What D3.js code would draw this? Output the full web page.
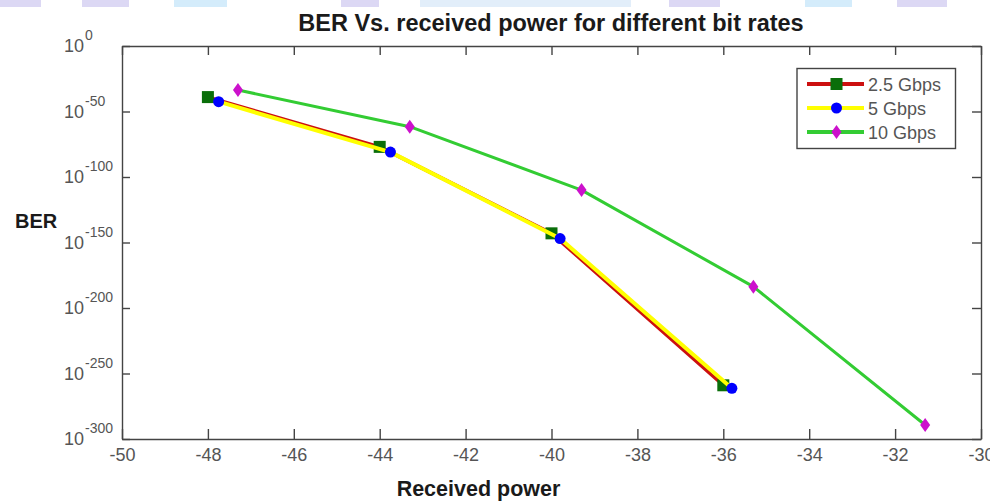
<!DOCTYPE html>
<html>
<head>
<meta charset="utf-8">
<script src="https://cdn.jsdelivr.net/npm/d3@7"></script>
<style>
  html, body { margin: 0; padding: 0; background: #ffffff; }
  svg { display: block; }
  text { font-family: "Liberation Sans", Arial, Helvetica, sans-serif; }
</style>
</head>
<body>
<svg id="chart" width="990" height="503"></svg>
<script>
// ---- Data ----
const seriesNames = ["2.5 Gbps", "5 Gbps", "10 Gbps"];
const power2_5 = [-48, -44, -40, -36];
const ber2_5   = [1e-39, 1e-77, 1e-143, 1e-259];
const power5   = [-47.75, -43.75, -39.8, -35.8];
const ber5     = [3e-43, 1e-81, 1e-147, 5e-262];
const power10  = [-47.3, -43.3, -39.3, -35.3, -31.3];
const ber10    = [2.5e-34, 2.5e-62, 1e-110, 2e-184, 5e-290];
const xTickValues = [-50, -48, -46, -44, -42, -40, -38, -36, -34, -32, -30];
const yTickExponents = [0, -50, -100, -150, -200, -250, -300];
const titleText = "BER Vs. received power for different bit rates";
const xLabelText = "Received power";
const yLabelText = "BER";

// ---- Styles ----
const styles = [
  { line: "#cc1010", lineWidth: 3.5, marker: "square",  fill: "#0a6e0a" },
  { line: "#ffff00", lineWidth: 4,   marker: "circle",  fill: "#0000ff" },
  { line: "#33cc33", lineWidth: 3,   marker: "diamond", fill: "#cc11cc" }
];
const seriesData = [
  power2_5.map((p, i) => ({ x: p, y: ber2_5[i] })),
  power5.map((p, i) => ({ x: p, y: ber5[i] })),
  power10.map((p, i) => ({ x: p, y: ber10[i] }))
];

const svg = d3.select("#chart");
const plot = { left: 122, right: 981, top: 46, bottom: 439 };

// decorative top band (page header artifact)
const band = svg.append("g");
const bandBlocks = [
  [0, 41, "#dcd8f4"], [82, 47, "#dcd8f4"], [174, 53, "#d4ecfb"], [341, 38, "#dcd8f4"],
  [420, 211, "#e2eefa"], [669, 51, "#dcd8f4"], [805, 47, "#d4ecfb"], [897, 50, "#dcd8f4"]
];
band.selectAll("rect").data(bandBlocks).join("rect")
  .attr("x", d => d[0]).attr("y", 0).attr("width", d => d[1]).attr("height", 7)
  .attr("fill", d => d[2]);

const x = d3.scaleLinear().domain([-50, -30]).range([plot.left, plot.right]);
const y = d3.scaleLog().base(10).domain([1e-300, 1]).range([plot.bottom, plot.top]);
const yTickVals = yTickExponents.map(e => Math.pow(10, e));

const axisColor = "#444";
const tickTextColor = "#555";

function styleAxis(g) {
  g.selectAll("path.domain").attr("stroke", axisColor).attr("stroke-width", 1.4);
  g.selectAll(".tick line").attr("stroke", axisColor).attr("stroke-width", 1.4);
  g.selectAll(".tick text").attr("fill", tickTextColor)
    .style("font-size", "18px").style("font-family", "'Liberation Sans', Arial, sans-serif");
}

// bottom axis
svg.append("g").attr("transform", `translate(0,${plot.bottom})`)
  .call(d3.axisBottom(x).tickValues(xTickValues).tickSize(-10).tickSizeOuter(0)
        .tickPadding(9).tickFormat(d => String(d)))
  .call(styleAxis);
// top axis
svg.append("g").attr("transform", `translate(0,${plot.top})`)
  .call(d3.axisTop(x).tickValues(xTickValues).tickSize(-9).tickSizeOuter(0).tickFormat(""))
  .call(styleAxis);
// left axis
svg.append("g").attr("transform", `translate(${plot.left},0)`)
  .call(d3.axisLeft(y).tickValues(yTickVals).tickSize(-8).tickSizeOuter(0).tickFormat(""))
  .call(styleAxis);
// right axis
svg.append("g").attr("transform", `translate(${plot.right},0)`)
  .call(d3.axisRight(y).tickValues(yTickVals).tickSize(-9).tickSizeOuter(0).tickFormat(""))
  .call(styleAxis);

// y tick labels 10^e
const yl = svg.append("g");
yTickExponents.forEach((e, i) => {
  const t = yl.append("text")
    .attr("x", 64).attr("y", y(yTickVals[i]) + 6)
    .attr("fill", tickTextColor).style("font-size", "18px");
  t.append("tspan").text("10");
  t.append("tspan").attr("dy", -12).attr("dx", 1).style("font-size", "14px").text(String(e));
});

// series
const lineGen = d3.line().x(d => x(d.x)).y(d => y(d.y));
function drawMarker(g, type, cx, cy, fill) {
  if (type === "square") {
    g.append("rect").attr("x", cx - 6).attr("y", cy - 6).attr("width", 12).attr("height", 12)
      .attr("fill", fill);
  } else if (type === "circle") {
    g.append("circle").attr("cx", cx).attr("cy", cy).attr("r", 5.5).attr("fill", fill);
  } else {
    g.append("path")
      .attr("d", `M${cx},${cy - 7}L${cx + 5},${cy}L${cx},${cy + 7}L${cx - 5},${cy}Z`)
      .attr("fill", fill);
  }
}
seriesData.forEach((data, si) => {
  const st = styles[si];
  const g = svg.append("g");
  g.append("path").datum(data).attr("d", lineGen)
    .attr("fill", "none").attr("stroke", st.line).attr("stroke-width", st.lineWidth)
    .attr("stroke-linejoin", "round");
  data.forEach(d => drawMarker(g, st.marker, x(d.x), y(d.y), st.fill));
});

// legend
const lg = svg.append("g");
lg.append("rect").attr("x", 797).attr("y", 68.5).attr("width", 158.5).attr("height", 80)
  .attr("fill", "#fff").attr("stroke", axisColor).attr("stroke-width", 1.4);
seriesNames.forEach((name, i) => {
  const st = styles[i];
  const cy = 84 + i * 24;
  lg.append("line").attr("x1", 807).attr("x2", 864).attr("y1", cy).attr("y2", cy)
    .attr("stroke", st.line).attr("stroke-width", 4);
  drawMarker(lg, st.marker, 836.5, cy, st.fill);
  lg.append("text").attr("x", 868).attr("y", cy + 6.5).attr("fill", tickTextColor)
    .style("font-size", "18px").text(name);
});

// title and labels
svg.append("text").attr("x", 551).attr("y", 31).attr("text-anchor", "middle")
  .attr("fill", "#1a1a1a").style("font-size", "23.5px").style("font-weight", "bold").text(titleText);
svg.append("text").attr("x", 478.5).attr("y", 496).attr("text-anchor", "middle")
  .attr("fill", "#1a1a1a").style("font-size", "21.5px").style("font-weight", "bold").text(xLabelText);
svg.append("text").attr("x", 15).attr("y", 228).attr("text-anchor", "start")
  .attr("fill", "#1a1a1a").style("font-size", "20px").style("font-weight", "bold").text(yLabelText);
</script>
</body>
</html>
